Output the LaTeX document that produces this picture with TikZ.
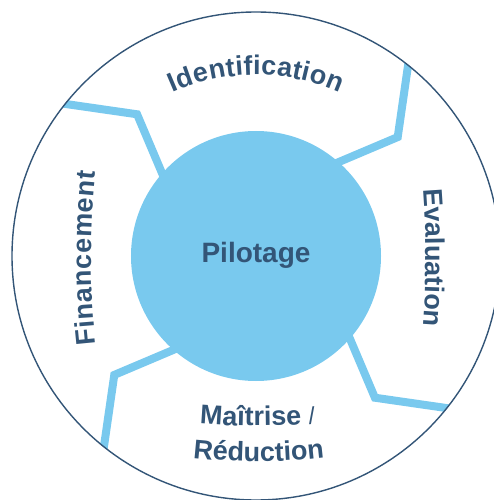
\documentclass[tikz,border=0pt]{standalone}
\usepackage{fontspec}
\setmainfont{Liberation Sans}
\usetikzlibrary{decorations.text}
\definecolor{txtblue}{HTML}{335577}
\definecolor{lblue}{HTML}{79C9EE}
\newcommand\lblfont{\fontsize{27}{31}\selectfont\bfseries}
\newcommand\slfont{\fontsize{24}{28}\selectfont\mdseries}
\begin{document}
\begin{tikzpicture}[x=1pt,y=1pt,
  link/.style={draw=lblue, line width=8pt, line join=miter},
  ringtext/.style={decorate, decoration={text along path, text color=txtblue, text align={fit to path}, text={#1}}}]
\useasboundingbox (-256,-244) rectangle (238,256);
\clip (-256,-244) rectangle (238,256);
% connectors between the centre and the ring
\begin{scope}
  \clip (0,0) circle[radius=244pt];
  \foreach \k in {0,1,2,3}{
    \coordinate (in\k) at ({52.5-90*\k}:110pt);
    \coordinate (j\k) at ({40-90*\k}:185pt);
    \coordinate (out\k) at ({52.5-90*\k}:252pt);
    \draw[link] (in\k) -- (j\k) -- (out\k);
  }
\end{scope}
% centre
\node[circle, fill=lblue, minimum size=250pt, inner sep=0pt] (pilot) at (0,0) {};
\node[font=\fontsize{28}{32}\selectfont\bfseries, text=txtblue, anchor=base] (pilottxt) at (0,-7) {Pilotage};
% outer ring
\node[circle, draw=txtblue, line width=1.4pt, minimum size=488pt, inner sep=0pt] (ring) at (0,0) {};
% labels
\path[ringtext={|\lblfont|Identification}] (0,-24) ++(114:205pt) arc[start angle=114, end angle=66, radius=205pt];
\path[ringtext={|\lblfont|Evaluation}] (-730,-1) ++(4.3:900pt) arc[start angle=4.3, end angle=-4.3, radius=900pt];
\path[ringtext={|\lblfont|Financement}] (635,-2) ++(186.2:800pt) arc[start angle=186.2, end angle=173.8, radius=800pt];
\path[ringtext={|\lblfont|Maîtrise |\slfont|/}] (1,530) ++(265.3:700pt) arc[start angle=265.3, end angle=274.7, radius=700pt];
\path[ringtext={|\lblfont|Réduction}] (0.5,374.5) ++(263.7:580pt) arc[start angle=263.7, end angle=276.3, radius=580pt];
\end{tikzpicture}
\end{document}
